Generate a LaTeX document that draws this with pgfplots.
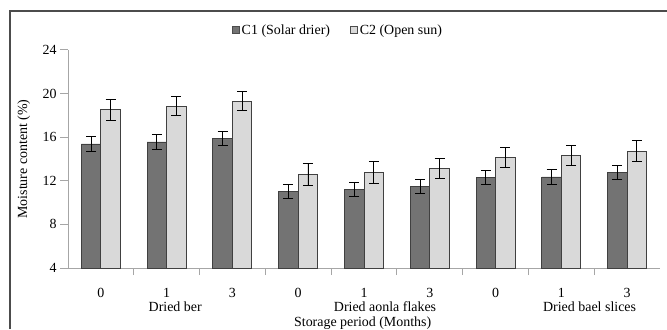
\documentclass[border=0pt]{standalone}
\usepackage{pgfplots}
\pgfplotsset{compat=1.18}
\usepackage{pgfplotstable}
\usepackage{fontspec}
\setmainfont{Liberation Serif}
\definecolor{cdark}{HTML}{737373}
\definecolor{clight}{HTML}{D9D9D9}
\definecolor{axgray}{HTML}{A6A6A6}
\pgfplotstableread{
x c1 e1 c2 e2
0 15.38 0.66 18.50 0.95
1 15.56 0.67 18.86 0.90
2 15.87 0.66 19.32 0.89
3 11.00 0.66 12.56 1.00
4 11.22 0.66 12.78 0.98
5 11.49 0.66 13.17 0.92
6 12.29 0.67 14.15 0.95
7 12.35 0.65 14.33 0.95
8 12.78 0.66 14.73 0.95
}\datatable
\begin{document}
\begin{tikzpicture}[x=1bp,y=1bp]
\useasboundingbox (0,0) rectangle (667,329);
\draw[line width=1.2bp, black!70] (10,0) -- (10,318) -- (667,318);
\begin{axis}[
  at={(68bp,61bp)}, anchor=south west, scale only axis,
  width=592bp, height=218bp,
  ybar, bar width=19.5bp,
  xmin=-0.5, xmax=8.5, ymin=4, ymax=24,
  ytick={4,8,...,24},
  xtick={0,...,8}, xticklabels={0,1,3,0,1,3,0,1,3},
  minor x tick num=1,
  axis x line*=bottom, axis y line*=left,
  axis line style={axgray, line width=1bp, -},
  tick align=outside,
  major tick length=8bp, minor tick length=7bp,
  major x tick style={draw=none},
  minor x tick style={axgray, line width=1bp},
  ytick style={axgray, line width=1bp},
  font=\fontsize{14}{16}\selectfont,
  /pgf/number format/assume math mode=true,
  x tick label style={inner sep=0bp, yshift=-12bp},
  ylabel={Moisture content (\%)},
  ylabel style={at={(axis description cs:-0.058,0.5)}, anchor=south},
  clip=false,
  legend style={draw=none, at={(0.456,1.092)}, anchor=center,
    legend columns=2, font=\fontsize{14}{16}\selectfont,
    /tikz/every even column/.append style={column sep=18bp}},
  legend image code/.code={\draw[#1, draw=black!70, line width=0.8bp] (0bp,-3.5bp) rectangle (7bp,3.5bp);},
  error bars/y dir=both, error bars/y explicit,
  error bars/error bar style={black, line width=0.9bp},
  error bars/error mark options={rotate=90, mark size=5bp, black, line width=0.9bp},
]
\addplot[bar shift=-9.75bp, fill=cdark, draw=black!75, line width=0.9bp]
  table[x=x, y=c1, y error=e1]{\datatable};
\addplot[bar shift=9.75bp, fill=clight, draw=black!75, line width=0.9bp]
  table[x=x, y=c2, y error=e2]{\datatable};
\legend{C1 (Solar drier), C2 (Open sun)}
\node[anchor=center, inner sep=0bp] at (axis cs:1.13,4) [yshift=-39bp] {Dried ber};
\node[anchor=center, inner sep=0bp] at (axis cs:4.32,4) [yshift=-39bp] {Dried aonla flakes};
\node[anchor=center, inner sep=0bp] at (axis cs:7.43,4) [yshift=-39bp] {Dried bael slices};
\node[anchor=center, inner sep=0bp] at (axis cs:3.98,4) [yshift=-55bp] {Storage period (Months)};
\end{axis}
\end{tikzpicture}
\end{document}
